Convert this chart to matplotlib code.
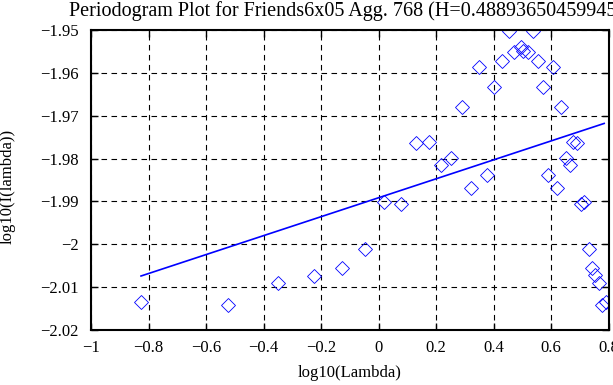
import numpy as np
import matplotlib.pyplot as plt

plt.rcParams['font.family'] = ['Liberation Serif', 'DejaVu Serif']

# puntos del periodograma (log10 lambda, log10 I)
log_lambda = [-0.826, -0.525, -0.349, -0.223, -0.126, -0.047, 0.020, 0.078,
              0.130, 0.176, 0.217, 0.252, 0.289, 0.322, 0.351, 0.377, 0.403,
              0.431, 0.454, 0.472, 0.496, 0.504, 0.521, 0.536, 0.556, 0.573,
              0.591, 0.606, 0.622, 0.635, 0.651, 0.666, 0.675, 0.692, 0.703,
              0.716, 0.732, 0.744, 0.753, 0.767, 0.779, 0.790]
log_I = [-2.0134, -2.0142, -2.0090, -2.0074, -2.0056, -2.0012, -1.9901, -1.9907,
         -1.9763, -1.9761, -1.9815, -1.9798, -1.9679, -1.9868, -1.9586, -1.9838,
         -1.9632, -1.9572, -1.9502, -1.9551, -1.9540, -1.9548, -1.9551, -1.9502,
         -1.9572, -1.9632, -1.9838, -1.9586, -1.9868, -1.9679, -1.9798, -1.9815,
         -1.9761, -1.9763, -1.9907, -1.9901, -2.0012, -2.0056, -2.0072, -2.0090,
         -2.0142, -2.0134]

# recta de ajuste (extremos)
fit_x = [-0.826, 0.785]
fit_y = [-2.0074, -1.9718]

xticks = [-1, -0.8, -0.6, -0.4, -0.2, 0, 0.2, 0.4, 0.6, 0.8]
xlabels = ['\u22121', '\u22120.8', '\u22120.6', '\u22120.4', '\u22120.2', '0', '0.2', '0.4', '0.6', '0.8']
yticks = [-2.02, -2.01, -2.0, -1.99, -1.98, -1.97, -1.96, -1.95]
ylabels = ['\u22122.02', '\u22122.01', '\u22122', '\u22121.99', '\u22121.98', '\u22121.97', '\u22121.96', '\u22121.95']

fig = plt.figure(figsize=(6.13, 3.85), dpi=100)
ax = fig.add_axes([91/613, 1-330/385, (608.5-91)/613, 300/385])

ax.plot(log_lambda, log_I, 'D', mfc='none', mec='blue', ms=7, mew=0.6)
ax.plot(fit_x, fit_y, 'b', linewidth=1.2)

ax.set_xlim(-1, 0.8)
ax.set_ylim(-2.02, -1.95)
ax.set_xticks(xticks)
ax.set_xticklabels(xlabels)
ax.set_yticks(yticks)
ax.set_yticklabels(ylabels)
ax.tick_params(direction='in', top=True, right=True, labelsize=12, length=5, width=1)
ax.tick_params(axis='y', pad=9)
ax.tick_params(axis='x', pad=7)
for s in ax.spines.values():
    s.set_linewidth(1.5)
ax.grid(True, color='black', linestyle=(0, (5, 4)), linewidth=0.8)

ax.set_xlabel('log10(Lambda)', fontsize=12, labelpad=7)
ax.set_ylabel('log10(I(lambda))', fontsize=12)
ax.yaxis.set_label_coords(-0.145, 0.48)

fig.text(69/613, 1-1/385, 'Periodogram Plot for Friends6x05 Agg. 768 (H=0.48893650459945)',
         ha='left', va='top', fontsize=14.5)

fig.savefig('out.png', dpi=100)
